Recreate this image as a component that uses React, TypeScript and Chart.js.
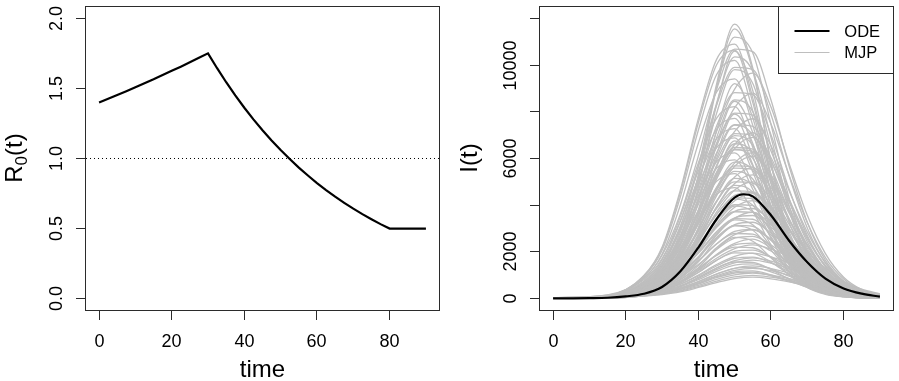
import React, { useEffect, useRef } from "react";
import { Chart, registerables } from "chart.js";

Chart.register(...registerables);

// ---------- data ----------
const r0Times = [0, 2.5, 5, 7.5, 10, 12.5, 15, 17.5, 20, 22.5, 25, 27.5, 30, 32.5, 35, 37.5, 40, 42.5, 45, 47.5, 50, 52.5, 55, 57.5, 60, 62.5, 65, 67.5, 70, 72.5, 75, 77.5, 80, 85, 90];
const r0Values = [1.4, 1.426, 1.453, 1.48, 1.508, 1.537, 1.565, 1.595, 1.625, 1.655, 1.686, 1.718, 1.75, 1.644, 1.544, 1.45, 1.362, 1.279, 1.202, 1.129, 1.06, 0.996, 0.935, 0.879, 0.825, 0.775, 0.728, 0.684, 0.642, 0.603, 0.567, 0.532, 0.5, 0.5, 0.5];
const thresholdLevel = 1;

const odeTimes = [0, 5, 10, 15, 20, 25, 30, 35, 40, 45, 50, 52.5, 55, 60, 65, 70, 75, 80, 85, 90];
const odeValues = [10, 14, 22, 40, 100, 210, 500, 1160, 2190, 3400, 4330, 4470, 4380, 3570, 2480, 1560, 860, 440, 215, 86];

const mjpTimes = [0, 15, 25, 30, 35, 40, 45, 50, 55, 60, 65, 70, 75, 80, 85, 90];
const mjpRuns: number[][] = [
  [10, 50, 410, 1060, 2590, 5290, 9170, 11750, 9870, 5880, 2700, 1060, 410, 150, 60, 20],
  [10, 50, 400, 1040, 2540, 5200, 9010, 11550, 9750, 5780, 2660, 1040, 400, 150, 60, 20],
  [20, 90, 570, 1360, 3050, 5650, 9040, 11190, 10510, 7460, 4290, 2030, 900, 400, 170, 70],
  [20, 130, 990, 2200, 4620, 7700, 10230, 10890, 8580, 5280, 2640, 1100, 440, 180, 70, 20],
  [40, 160, 870, 1850, 3600, 6100, 8940, 10680, 10570, 8500, 5670, 3270, 1640, 760, 330, 140],
  [20, 130, 970, 2150, 4520, 7530, 10000, 10640, 8390, 5160, 2580, 1080, 430, 170, 60, 20],
  [10, 40, 370, 950, 2330, 4770, 8270, 10600, 8900, 5300, 2440, 950, 370, 140, 50, 20],
  [20, 80, 520, 1250, 2820, 5230, 8360, 10350, 9720, 6900, 3970, 1880, 840, 370, 160, 60],
  [20, 120, 930, 2060, 4330, 7210, 9580, 10200, 8030, 4940, 2470, 1030, 410, 160, 60, 20],
  [40, 150, 810, 1720, 3330, 5660, 8280, 9900, 9800, 7880, 5250, 3030, 1520, 710, 300, 130],
  [20, 80, 500, 1190, 2670, 4950, 7920, 9800, 9210, 6530, 3760, 1780, 790, 350, 150, 60],
  [30, 120, 580, 1250, 2610, 4630, 7140, 8970, 9650, 8200, 5790, 3570, 1930, 920, 390, 150],
  [20, 110, 860, 1900, 3990, 6650, 8840, 9410, 7410, 4560, 2280, 950, 380, 150, 60, 20],
  [10, 40, 320, 830, 2020, 4140, 7180, 9200, 7730, 4600, 2120, 830, 320, 120, 50, 20],
  [40, 140, 720, 1530, 2970, 5040, 7380, 8820, 8730, 7020, 4680, 2700, 1350, 630, 270, 120],
  [30, 110, 530, 1140, 2380, 4220, 6510, 8180, 8800, 7480, 5280, 3260, 1760, 840, 350, 140],
  [20, 70, 430, 1030, 2320, 4300, 6880, 8510, 8000, 5680, 3270, 1550, 690, 300, 130, 50],
  [10, 30, 300, 760, 1860, 3800, 6590, 8450, 7100, 4230, 1940, 760, 300, 110, 40, 20],
  [20, 100, 750, 1660, 3490, 5810, 7720, 8220, 6470, 3980, 1990, 830, 330, 130, 50, 20],
  [30, 120, 650, 1380, 2670, 4540, 6640, 7940, 7860, 6320, 4210, 2430, 1220, 570, 240, 110],
  [10, 30, 280, 710, 1740, 3560, 6160, 7900, 6640, 3950, 1820, 710, 280, 100, 40, 20],
  [20, 90, 700, 1560, 3280, 5460, 7250, 7720, 6080, 3740, 1870, 780, 310, 120, 50, 20],
  [20, 90, 460, 1000, 2080, 3700, 5700, 7160, 7700, 6550, 4620, 2850, 1540, 730, 310, 120],
  [30, 110, 610, 1290, 2510, 4260, 6230, 7450, 7370, 5930, 3950, 2280, 1140, 530, 230, 100],
  [20, 60, 380, 900, 2030, 3750, 6000, 7430, 6980, 4950, 2850, 1350, 600, 260, 110, 50],
  [10, 90, 660, 1470, 3090, 5150, 6840, 7280, 5730, 3530, 1760, 740, 290, 120, 40, 10],
  [30, 110, 580, 1220, 2380, 4030, 5900, 7060, 6980, 5620, 3740, 2160, 1080, 500, 220, 90],
  [20, 90, 430, 920, 1920, 3410, 5250, 6600, 7100, 6040, 4260, 2630, 1420, 670, 280, 110],
  [10, 60, 350, 850, 1900, 3530, 5640, 6980, 6560, 4650, 2680, 1270, 560, 250, 110, 40],
  [10, 80, 630, 1390, 2920, 4870, 6460, 6880, 5420, 3340, 1670, 700, 280, 110, 40, 10],
  [20, 80, 410, 900, 1860, 3310, 5110, 6420, 6900, 5870, 4140, 2550, 1380, 660, 280, 110],
  [10, 30, 240, 610, 1490, 3040, 5270, 6750, 5670, 3380, 1550, 610, 240, 90, 30, 10],
  [10, 50, 340, 800, 1810, 3350, 5360, 6630, 6230, 4420, 2550, 1210, 540, 230, 100, 40],
  [30, 100, 530, 1120, 2180, 3700, 5410, 6470, 6400, 5150, 3430, 1980, 990, 460, 200, 90],
  [30, 100, 520, 1110, 2150, 3640, 5330, 6370, 6310, 5070, 3380, 1950, 980, 460, 200, 80],
  [10, 50, 320, 770, 1740, 3230, 5160, 6390, 6000, 4260, 2450, 1160, 520, 230, 100, 40],
  [10, 80, 570, 1260, 2650, 4410, 5860, 6240, 4910, 3020, 1510, 630, 250, 100, 40, 10],
  [20, 80, 380, 810, 1690, 3000, 4630, 5810, 6250, 5310, 3750, 2310, 1250, 590, 250, 100],
  [20, 70, 370, 790, 1650, 2930, 4510, 5670, 6100, 5190, 3660, 2260, 1220, 580, 240, 100],
  [10, 70, 540, 1200, 2520, 4200, 5580, 5940, 4680, 2880, 1440, 600, 240, 100, 40, 10],
  [10, 50, 300, 710, 1590, 2950, 4720, 5840, 5490, 3890, 2240, 1060, 470, 210, 90, 40],
  [20, 90, 460, 990, 1910, 3250, 4760, 5680, 5630, 4520, 3020, 1740, 870, 410, 170, 80],
  [20, 90, 460, 970, 1880, 3190, 4670, 5590, 5530, 4450, 2960, 1710, 860, 400, 170, 70],
  [20, 70, 340, 730, 1510, 2690, 4140, 5210, 5600, 4760, 3360, 2070, 1120, 530, 220, 90],
  [10, 40, 280, 660, 1490, 2750, 4400, 5450, 5120, 3630, 2090, 990, 440, 190, 80, 30],
  [10, 60, 490, 1080, 2270, 3780, 5020, 5350, 4210, 2590, 1300, 540, 220, 90, 30, 10],
  [20, 60, 320, 690, 1430, 2540, 3920, 4930, 5300, 4510, 3180, 1960, 1060, 500, 210, 80],
  [10, 40, 260, 620, 1400, 2600, 4160, 5150, 4840, 3430, 1980, 940, 420, 180, 80, 30],
  [20, 80, 410, 870, 1680, 2860, 4180, 5000, 4950, 3980, 2650, 1530, 770, 360, 150, 70],
  [20, 60, 300, 650, 1350, 2400, 3700, 4650, 5000, 4250, 3000, 1850, 1000, 480, 200, 80],
  [10, 40, 250, 590, 1320, 2450, 3920, 4850, 4560, 3230, 1860, 880, 390, 170, 70, 30],
  [10, 60, 430, 960, 2020, 3360, 4460, 4750, 3740, 2300, 1150, 480, 190, 80, 30, 10],
  [20, 70, 380, 800, 1550, 2630, 3850, 4610, 4560, 3670, 2440, 1410, 710, 330, 140, 60],
  [20, 90, 460, 870, 1560, 2480, 3590, 4420, 4550, 3910, 2940, 2020, 1290, 740, 370, 160],
  [10, 50, 270, 590, 1220, 2160, 3330, 4190, 4500, 3830, 2700, 1670, 900, 430, 180, 70],
  [20, 70, 350, 750, 1450, 2460, 3610, 4310, 4270, 3430, 2290, 1320, 660, 310, 130, 60],
  [10, 30, 220, 520, 1160, 2150, 3440, 4260, 4000, 2840, 1630, 770, 340, 150, 60, 30],
  [10, 50, 250, 550, 1130, 2020, 3110, 3910, 4200, 3570, 2520, 1550, 840, 400, 170, 70],
  [20, 60, 330, 700, 1350, 2300, 3360, 4020, 3980, 3200, 2130, 1230, 620, 290, 120, 50],
  [10, 30, 200, 480, 1080, 2000, 3200, 3960, 3720, 2640, 1520, 720, 320, 140, 60, 20],
  [20, 80, 390, 740, 1330, 2110, 3040, 3740, 3860, 3320, 2500, 1720, 1090, 620, 310, 140],
  [20, 60, 300, 650, 1250, 2130, 3120, 3720, 3690, 2960, 1980, 1140, 570, 270, 110, 50],
  [10, 40, 220, 480, 1000, 1780, 2740, 3440, 3700, 3150, 2220, 1370, 740, 350, 150, 60],
  [20, 70, 360, 680, 1220, 1940, 2810, 3460, 3560, 3060, 2300, 1580, 1010, 580, 290, 130],
  [10, 50, 280, 600, 1160, 1960, 2870, 3430, 3400, 2730, 1820, 1050, 530, 250, 110, 50],
  [10, 30, 170, 410, 920, 1700, 2720, 3370, 3160, 2240, 1290, 610, 270, 120, 50, 20],
  [20, 70, 330, 630, 1120, 1780, 2570, 3170, 3270, 2810, 2110, 1450, 920, 530, 260, 120],
  [10, 50, 260, 540, 1060, 1790, 2620, 3140, 3100, 2500, 1660, 960, 480, 220, 100, 40],
  [10, 30, 160, 380, 850, 1580, 2520, 3120, 2930, 2080, 1200, 570, 250, 110, 50, 20],
  [20, 60, 300, 570, 1020, 1620, 2340, 2880, 2970, 2550, 1920, 1320, 840, 480, 240, 110],
  [10, 40, 180, 380, 800, 1420, 2180, 2740, 2950, 2510, 1770, 1090, 590, 280, 120, 50],
  [10, 40, 230, 480, 940, 1600, 2340, 2790, 2760, 2220, 1480, 860, 430, 200, 90, 40],
  [10, 50, 270, 510, 920, 1460, 2110, 2590, 2670, 2300, 1730, 1190, 760, 430, 220, 90],
  [10, 20, 130, 320, 720, 1330, 2120, 2620, 2460, 1750, 1010, 480, 210, 90, 40, 20],
  [10, 30, 150, 330, 690, 1220, 1890, 2370, 2550, 2170, 1530, 940, 510, 240, 100, 40],
  [10, 50, 240, 460, 820, 1300, 1870, 2300, 2380, 2040, 1540, 1060, 670, 380, 190, 80],
  [20, 90, 300, 460, 740, 1200, 1730, 2140, 2300, 2120, 1790, 1380, 1040, 690, 410, 210],
  [10, 30, 180, 380, 740, 1260, 1850, 2210, 2180, 1760, 1170, 680, 340, 160, 70, 30],
  [10, 40, 210, 400, 710, 1130, 1640, 2020, 2080, 1790, 1340, 920, 590, 340, 170, 70],
  [10, 30, 160, 340, 660, 1120, 1640, 1960, 1940, 1560, 1040, 600, 300, 140, 60, 30],
  [20, 80, 250, 390, 620, 1010, 1460, 1810, 1950, 1790, 1520, 1170, 880, 590, 350, 180],
  [10, 40, 180, 340, 610, 970, 1400, 1730, 1780, 1530, 1150, 790, 500, 290, 140, 60],
  [20, 70, 230, 350, 560, 910, 1310, 1630, 1750, 1610, 1370, 1050, 790, 530, 320, 160],
  [20, 70, 210, 330, 530, 860, 1240, 1530, 1650, 1520, 1290, 990, 740, 500, 300, 150],
  [10, 20, 130, 270, 530, 900, 1310, 1570, 1550, 1250, 830, 480, 240, 110, 50, 20],
  [10, 30, 150, 290, 510, 810, 1170, 1440, 1490, 1280, 960, 660, 420, 240, 120, 50],
  [10, 60, 180, 280, 450, 730, 1050, 1300, 1400, 1290, 1090, 840, 630, 420, 250, 130],
  [10, 30, 140, 260, 460, 730, 1050, 1300, 1340, 1150, 860, 590, 380, 220, 110, 50],
  [10, 50, 170, 260, 420, 680, 980, 1210, 1300, 1200, 1010, 780, 590, 390, 230, 120],
  [10, 20, 120, 230, 410, 650, 940, 1150, 1190, 1020, 770, 530, 340, 190, 100, 40],
  [10, 20, 120, 220, 390, 620, 900, 1100, 1140, 980, 740, 510, 320, 180, 90, 40],
  [10, 40, 140, 220, 350, 570, 830, 1020, 1100, 1010, 860, 660, 500, 330, 200, 100],
  [10, 40, 130, 200, 320, 520, 750, 930, 1000, 920, 780, 600, 450, 300, 180, 90],
  [10, 40, 120, 180, 290, 480, 690, 860, 920, 850, 720, 550, 410, 280, 170, 80],
];

const timeTicks = [0, 20, 40, 60, 80];
const r0Ticks = [0, 0.5, 1, 1.5, 2];
const r0TickLabels = ["0.0", "0.5", "1.0", "1.5", "2.0"];
const iTicks = [0, 2000, 4000, 6000, 8000, 10000, 12000];
const iTickLabels = ["0", "2000", "", "6000", "", "10000", ""];
const legendLabels = ["ODE", "MJP"];
const xTitle = "time";

// ---------- style ----------
const FONT = '"Liberation Sans", Arial, Helvetica, sans-serif';
const AXIS = "#2b2b2b";
const GRAY = "#BEBEBE";
const TICK_FONT = 18;
const TITLE_FONT = 24;

function txt(ctx: CanvasRenderingContext2D, s: string, x: number, y: number, size: number, rotate: boolean, align: CanvasTextAlign = "center") {
  ctx.save();
  ctx.translate(x, y);
  if (rotate) ctx.rotate(-Math.PI / 2);
  ctx.font = `${size}px ${FONT}`;
  ctx.textAlign = align;
  ctx.textBaseline = "alphabetic";
  ctx.fillStyle = "#000";
  ctx.fillText(s, 0, 0);
  ctx.restore();
}

type PanelCfg = {
  yTicks: number[];
  yLabels: string[];
  yTitle: (ctx: CanvasRenderingContext2D, x: number, y: number) => void;
  yTitleOffset: number;
  legend: boolean;
};

function panelPlugin(cfg: PanelCfg) {
  return {
    id: "rpanel",
    afterDraw(chart: any) {
      const ctx: CanvasRenderingContext2D = chart.ctx;
      const a = chart.chartArea;
      const xs = chart.scales.x;
      const ys = chart.scales.y;
      ctx.save();
      ctx.strokeStyle = AXIS;
      ctx.lineWidth = 1;
      for (const t of timeTicks) {
        const px = Math.floor(xs.getPixelForValue(t)) + 0.5;
        ctx.beginPath();
        ctx.moveTo(px, a.bottom);
        ctx.lineTo(px, a.bottom + 10);
        ctx.stroke();
        txt(ctx, String(t), px, a.bottom + 36.5, TICK_FONT, false);
      }
      cfg.yTicks.forEach((v, i) => {
        const py = Math.floor(ys.getPixelForValue(v)) + 0.5;
        ctx.beginPath();
        ctx.moveTo(a.left - 10, py);
        ctx.lineTo(a.left, py);
        ctx.stroke();
        if (cfg.yLabels[i]) txt(ctx, cfg.yLabels[i], a.left - 24.5, py, TICK_FONT, true);
      });
      ctx.strokeRect(a.left - 0.5, a.top + 0.5, a.right - a.left + 1, a.bottom - a.top);
      txt(ctx, xTitle, (a.left + a.right) / 2, a.bottom + 66.5, TITLE_FONT, false);
      cfg.yTitle(ctx, a.left - cfg.yTitleOffset, (a.top + a.bottom) / 2);
      if (cfg.legend) {
        const L = a.right - 114.5;
        const T = a.top;
        ctx.fillStyle = "#fff";
        ctx.fillRect(L, T + 1, a.right - L, 66);
        ctx.strokeStyle = AXIS;
        ctx.lineWidth = 1;
        ctx.strokeRect(Math.floor(L) + 0.5, T + 0.5, a.right - Math.floor(L), 67);
        const x1 = a.right - 98.5;
        const x2 = a.right - 63.5;
        ctx.lineCap = "butt";
        ctx.strokeStyle = "#000";
        ctx.lineWidth = 2.2;
        ctx.beginPath();
        ctx.moveTo(x1, T + 25);
        ctx.lineTo(x2, T + 25);
        ctx.stroke();
        ctx.strokeStyle = GRAY;
        ctx.lineWidth = 1;
        ctx.beginPath();
        ctx.moveTo(x1, T + 46.5);
        ctx.lineTo(x2, T + 46.5);
        ctx.stroke();
        txt(ctx, legendLabels[0], a.right - 48.7, T + 30.6, 16.5, false, "left");
        txt(ctx, legendLabels[1], a.right - 48.7, T + 51.6, 16.5, false, "left");
      }
      ctx.restore();
    },
  };
}

function drawR0Title(ctx: CanvasRenderingContext2D, x: number, y: number) {
  ctx.save();
  ctx.translate(x, y);
  ctx.rotate(-Math.PI / 2);
  ctx.fillStyle = "#000";
  ctx.textBaseline = "alphabetic";
  ctx.textAlign = "left";
  const big = `${TITLE_FONT}px ${FONT}`;
  const small = `17px ${FONT}`;
  ctx.font = big;
  const wR = ctx.measureText("R").width;
  const wT = ctx.measureText("(t)").width;
  ctx.font = small;
  const w0 = ctx.measureText("0").width;
  const start = -(wR + w0 + wT) / 2;
  ctx.font = big;
  ctx.fillText("R", start, 0);
  ctx.font = small;
  ctx.fillText("0", start + wR, 5);
  ctx.font = big;
  ctx.fillText("(t)", start + wR + w0, 0);
  ctx.restore();
}

function drawITitle(ctx: CanvasRenderingContext2D, x: number, y: number) {
  txt(ctx, "I(t)", x, y, TITLE_FONT, true);
}

const pts = (xs: number[], ys: number[]) => xs.map((x, i) => ({ x, y: ys[i] }));

export default function App() {
  const leftRef = useRef<HTMLCanvasElement>(null);
  const rightRef = useRef<HTMLCanvasElement>(null);

  useEffect(() => {
    const common = {
      animation: false as const,
      responsive: false,
      devicePixelRatio: 1,
      events: [] as any[],
      plugins: { legend: { display: false }, tooltip: { enabled: false } },
    };

    const left = new Chart(leftRef.current!, {
      type: "line",
      data: {
        datasets: [
          {
            data: pts(r0Times, r0Values),
            borderColor: "#000",
            borderWidth: 2.2,
            pointRadius: 0,
            tension: 0,
            fill: false,
          },
          {
            data: [
              { x: -3.6, y: thresholdLevel },
              { x: 93.6, y: thresholdLevel },
            ],
            borderColor: "#000",
            borderWidth: 1,
            borderDash: [1, 3],
            pointRadius: 0,
            fill: false,
          },
        ],
      },
      options: {
        ...common,
        layout: { padding: { left: 86, right: 11, top: 6, bottom: 71 } },
        scales: {
          x: { type: "linear", display: false, min: -3.6, max: 93.6 },
          y: { type: "linear", display: false, min: -0.0806, max: 2.0877 },
        },
      },
      plugins: [
        panelPlugin({ yTicks: r0Ticks, yLabels: r0TickLabels, yTitle: drawR0Title, yTitleOffset: 64.5, legend: false }),
      ],
    } as any);

    const grayDatasets = mjpRuns.map((run) => ({
      data: pts(mjpTimes, run),
      borderColor: GRAY,
      borderWidth: 1.3,
      pointRadius: 0,
      cubicInterpolationMode: "monotone",
      fill: false,
    }));

    const right = new Chart(rightRef.current!, {
      type: "line",
      data: {
        datasets: [
          {
            data: pts(odeTimes, odeValues),
            borderColor: "#000",
            borderWidth: 2.2,
            pointRadius: 0,
            cubicInterpolationMode: "monotone",
            fill: false,
          },
          ...grayDatasets,
        ],
      },
      options: {
        ...common,
        layout: { padding: { left: 90, right: 6, top: 6, bottom: 71 } },
        scales: {
          x: { type: "linear", display: false, min: -3.6, max: 93.6 },
          y: { type: "linear", display: false, min: -484, max: 12525 },
        },
      },
      plugins: [
        panelPlugin({ yTicks: iTicks, yLabels: iTickLabels, yTitle: drawITitle, yTitleOffset: 63, legend: true }),
      ],
    } as any);

    return () => {
      left.destroy();
      right.destroy();
    };
  }, []);

  return (
    <div style={{ position: "fixed", left: 0, top: 0, width: 899, height: 381, background: "#fff" }}>
      <canvas ref={leftRef} width={450} height={381} style={{ position: "absolute", left: 0, top: 0, width: 450, height: 381 }} />
      <canvas ref={rightRef} width={449} height={381} style={{ position: "absolute", left: 450, top: 0, width: 449, height: 381 }} />
    </div>
  );
}
